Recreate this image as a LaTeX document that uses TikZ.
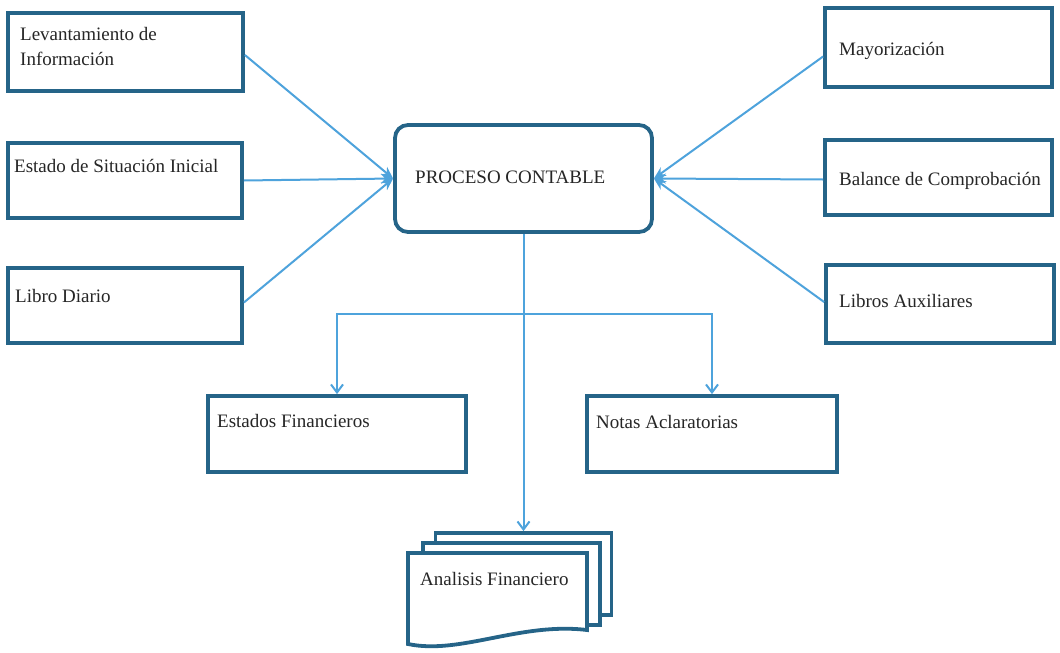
\documentclass[tikz,border=0pt]{standalone}
\usepackage{fontspec}
\setmainfont{Liberation Serif}
\usetikzlibrary{arrows.meta}
\definecolor{boxc}{HTML}{256488}
\definecolor{arrc}{HTML}{4EA3DC}
\tikzset{
  box/.style={draw=boxc, line width=3.8pt, fill=white, inner sep=0pt, rectangle},
  txt/.style={anchor=base west, inner sep=0pt, font=\fontsize{19}{25}\selectfont, align=left, text=black!85},
  inarr/.style={draw=arrc, line width=2pt, -{Stealth[length=12pt,width=10pt]}},
  downarr/.style={draw=arrc, line width=2pt, -{Straight Barb[length=8pt,width=12pt,line width=2pt]}},
}
\begin{document}
\begin{tikzpicture}[x=1pt,y=-1pt]
\useasboundingbox[fill=white] (0,0) rectangle (1060,653);
% left boxes
\node[box, minimum width=235, minimum height=78] (lev) at (125.5,52) {};
\node[box, minimum width=234, minimum height=75] (est) at (125,180.5) {};
\node[box, minimum width=234, minimum height=75] (lib) at (125,305.5) {};
% right boxes
\node[box, minimum width=227, minimum height=79] (may) at (938.5,47.5) {};
\node[box, minimum width=227, minimum height=75] (bal) at (938.5,177.5) {};
\node[box, minimum width=228, minimum height=78] (aux) at (940,304) {};
% center
\node[box, rounded corners=13pt, minimum width=257, minimum height=107] (pc) at (523.5,178.5) {};
% lower boxes
\node[box, minimum width=258, minimum height=76] (ef) at (337,434) {};
\node[box, minimum width=250, minimum height=76] (na) at (712,434) {};
% multidocument
\node[box, minimum width=176, minimum height=82] (docback) at (523.5,574) {};
\node[box, minimum width=177, minimum height=82] (docmid) at (511.5,584) {};
\path[draw=boxc, line width=3.8pt, fill=white, line join=miter]
  (408,553) -- (587,553) -- (587,630)
  .. controls (520,622) and (460,655) .. (408,644) -- cycle;
% texts
\node[txt] (tlev) at (20,65) {Levantamiento de\\Información};
\node[txt] (test) at (14,172) {Estado de Situación Inicial};
\node[txt] (tlib) at (15,302) {Libro Diario};
\node[txt] (tmay) at (839,55) {Mayorización};
\node[txt] (tbal) at (839,185) {Balance de Comprobación};
\node[txt] (taux) at (839,307) {Libros Auxiliares};
\node[txt] (tpc) at (415,183) {PROCESO CONTABLE};
\node[txt] (tef) at (217,427) {Estados Financieros};
\node[txt] (tna) at (596,428) {Notas Aclaratorias};
\node[txt] (tana) at (420,585) {Analisis Financiero};
% converging arrows
\draw[inarr] ([yshift=-3pt]lev.east) -- (pc.west);
\draw[inarr] (est.east) -- (pc.west);
\draw[inarr] ([yshift=3pt]lib.east) -- (pc.west);
\draw[inarr] ([yshift=-9pt]may.west) -- (pc.east);
\draw[inarr] ([yshift=-2pt]bal.west) -- (pc.east);
\draw[inarr] ([yshift=2pt]aux.west) -- (pc.east);
% lower arrows
\coordinate (br) at (523.5,314);
\draw[downarr] (pc.south) -- (docback.north);
\draw[downarr] (br) -| (ef.north);
\draw[downarr] (br) -| (na.north);
\end{tikzpicture}
\end{document}
